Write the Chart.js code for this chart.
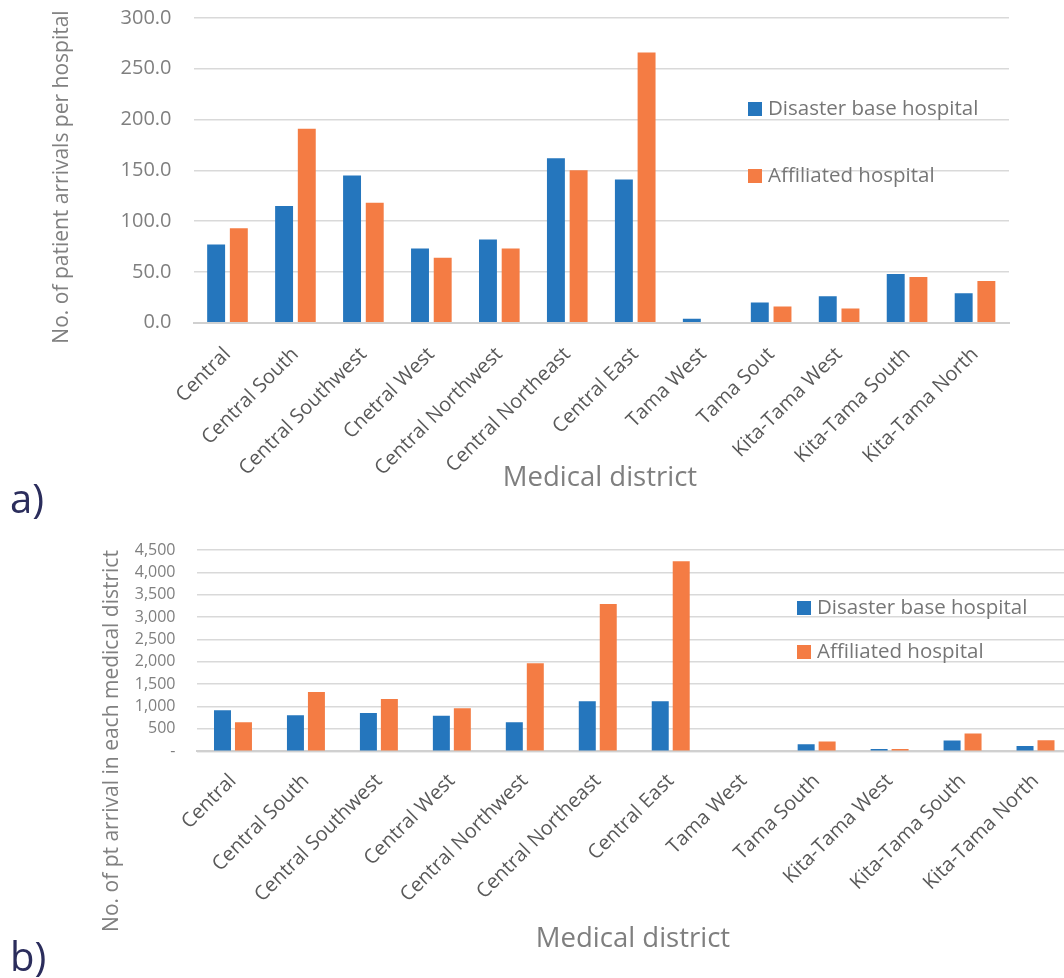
<!DOCTYPE html>
<html>
<head>
<meta charset="utf-8">
<script src="https://cdn.jsdelivr.net/npm/chart.js@4.4.1/dist/chart.umd.min.js"></script>
<style>
  html, body { margin: 0; padding: 0; background: #ffffff; overflow: hidden; }
  body { width: 1064px; height: 978px; position: relative; font-family: "Open Sans", sans-serif; }
  canvas { position: absolute; left: 0; }
  #chartA { top: 0; }
  #chartB { top: 520px; }
  .panel { position: absolute; font-family: "Open Sans", sans-serif; font-size: 40px; color: #2b2d5c; line-height: 1; }
  #panelA { left: 10px; top: 478px; }
  #panelB { left: 10px; top: 936px; }
</style>
</head>
<body>
<canvas id="chartA" width="1064" height="510"></canvas>
<canvas id="chartB" width="1080" height="458"></canvas>
<div class="panel" id="panelA">a)</div>
<div class="panel" id="panelB">b)</div>
<script>
// Medical district names as printed under each panel
const districtsA = ['Central', 'Central South', 'Central Southwest', 'Cnetral West', 'Central Northwest',
  'Central Northeast', 'Central East', 'Tama West', 'Tama Sout', 'Kita-Tama West', 'Kita-Tama South', 'Kita-Tama North'];
const districtsB = ['Central', 'Central South', 'Central Southwest', 'Central West', 'Central Northwest',
  'Central Northeast', 'Central East', 'Tama West', 'Tama South', 'Kita-Tama West', 'Kita-Tama South', 'Kita-Tama North'];

const seriesNames = ['Disaster base hospital', 'Affiliated hospital'];

// a) patient arrivals per hospital
const perHospitalBase = [77, 115, 145, 73, 82, 162, 141, 4, 20, 26, 48, 29];
const perHospitalAffiliated = [93, 191, 118, 64, 73, 150, 266, 0, 16, 14, 45, 41];

// b) patient arrivals in each medical district
const perDistrictBase = [916, 805, 856, 796, 648, 1117, 1117, 0, 160, 50, 240, 120];
const perDistrictAffiliated = [648, 1325, 1169, 961, 1967, 3292, 4247, 0, 220, 50, 400, 245];

const BLUE = '#2576bd';
const ORANGE = '#f47c44';
const FONT = '"Open Sans", sans-serif';

// Legend drawn inside the plot, Excel style
const innerLegend = {
  id: 'innerLegend',
  afterDraw(chart, args, opts) {
    const ctx = chart.ctx;
    ctx.save();
    ctx.font = `${opts.size}px ${FONT}`;
    ctx.textBaseline = 'middle';
    ctx.textAlign = 'left';
    chart.data.datasets.forEach((ds, i) => {
      const cy = opts.y + i * opts.step;
      ctx.fillStyle = ds.backgroundColor;
      ctx.fillRect(opts.x, cy - opts.box / 2, opts.box, opts.box);
      ctx.fillStyle = opts.color;
      ctx.fillText(ds.label, opts.x + opts.box + 6, cy);
    });
    ctx.restore();
  }
};

// Free-standing axis captions
const captions = {
  id: 'captions',
  afterDraw(chart, args, opts) {
    const ctx = chart.ctx;
    (opts.items || []).forEach(c => {
      ctx.save();
      ctx.translate(c.x, c.y);
      ctx.rotate(c.rotation || 0);
      ctx.font = `${c.size}px ${FONT}`;
      ctx.fillStyle = c.color;
      ctx.textAlign = 'center';
      ctx.textBaseline = 'middle';
      ctx.fillText(c.text, 0, 0);
      ctx.restore();
    });
  }
};

function buildChart(el, cfg) {
  return new Chart(document.getElementById(el), {
    type: 'bar',
    data: {
      labels: cfg.labels,
      datasets: [
        { label: seriesNames[0], data: cfg.base, backgroundColor: BLUE },
        { label: seriesNames[1], data: cfg.affiliated, backgroundColor: ORANGE }
      ]
    },
    options: {
      responsive: false,
      animation: false,
      devicePixelRatio: 1,
      layout: { padding: cfg.padding, autoPadding: false },
      datasets: { bar: { categoryPercentage: cfg.catPct, barPercentage: cfg.barPct } },
      plugins: {
        legend: { display: false },
        tooltip: { enabled: false },
        innerLegend: cfg.legend,
        captions: { items: cfg.captions }
      },
      scales: {
        x: {
          grid: { display: false, drawTicks: false },
          border: { display: true, color: '#d0d0d0', width: 2 },
          ticks: {
            minRotation: 45, maxRotation: 45, autoSkip: false, padding: cfg.xPad,
            color: '#595959', font: { family: FONT, size: cfg.xSize }
          },
          afterFit(s) { s.height = cfg.xHeight; s.paddingLeft = 0; s.paddingRight = 0; }
        },
        y: {
          min: 0, max: cfg.max,
          grid: { color: '#d9d9d9', lineWidth: 1.5, drawTicks: false },
          border: { display: false },
          ticks: {
            stepSize: cfg.step, padding: cfg.yPad,
            color: '#7f7f7f', font: { family: FONT, size: cfg.ySize },
            callback: cfg.fmt
          },
          afterFit(s) { s.width = cfg.yWidth; s.paddingTop = 0; s.paddingBottom = 0; }
        }
      }
    },
    plugins: [innerLegend, captions]
  });
}

buildChart('chartA', {
  labels: districtsA, base: perHospitalBase, affiliated: perHospitalAffiliated,
  max: 300, step: 50, fmt: v => v.toFixed(1),
  padding: { top: 18, right: 55, bottom: 0, left: 0 },
  yWidth: 193.5, xHeight: 187.3, catPct: 0.668, barPct: 0.79,
  xPad: 20, yPad: 22, xSize: 20, ySize: 20,
  legend: { x: 748, y: 109, step: 67, box: 14, size: 20.5, color: '#767676' },
  captions: [
    { text: 'No. of patient arrivals per hospital', x: 62, y: 177, rotation: -Math.PI / 2, size: 21, color: '#808080' },
    { text: 'Medical district', x: 600, y: 478, size: 27.5, color: '#7f7f7f' }
  ]
});

buildChart('chartB', {
  labels: districtsB, base: perDistrictBase, affiliated: perDistrictAffiliated,
  max: 4500, step: 500, fmt: v => v === 0 ? '-' : v.toLocaleString('en-US'),
  padding: { top: 30, right: 8, bottom: 0, left: 0 },
  yWidth: 196.5, xHeight: 226.7, catPct: 0.575, barPct: 0.81,
  xPad: 18, yPad: 21, xSize: 20, ySize: 16,
  legend: { x: 797, y: 88, step: 44, box: 14, size: 20.5, color: '#767676' },
  captions: [
    { text: 'No. of pt arrival in each medical district', x: 112, y: 221, rotation: -Math.PI / 2, size: 21, color: '#808080' },
    { text: 'Medical district', x: 633, y: 419, size: 27.5, color: '#7f7f7f' }
  ]
});
</script>
</body>
</html>
